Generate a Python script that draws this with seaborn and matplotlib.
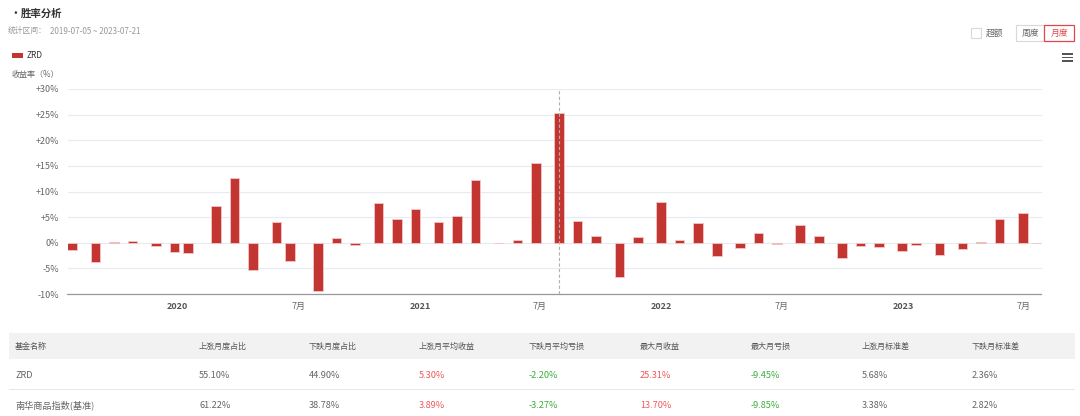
import matplotlib
matplotlib.use('Agg')
import matplotlib.pyplot as plt
import matplotlib.dates as mdates
from matplotlib.patches import Rectangle
import pandas as pd
import seaborn as sns

# month-end NAV dates and monthly returns (%)
dates = [
    '2019-07-26', '2019-08-30', '2019-09-27', '2019-10-25', '2019-11-29', '2019-12-27',
    '2020-01-17', '2020-02-28', '2020-03-27', '2020-04-24', '2020-05-29', '2020-06-19',
    '2020-07-31', '2020-08-28', '2020-09-25', '2020-10-30', '2020-11-27', '2020-12-25',
    '2021-01-29', '2021-02-26', '2021-03-26', '2021-04-30', '2021-05-28', '2021-06-25',
    '2021-07-30', '2021-08-27', '2021-09-24', '2021-10-29', '2021-11-26', '2021-12-31',
    '2022-01-28', '2022-02-25', '2022-03-25', '2022-04-29', '2022-05-27', '2022-06-24',
    '2022-07-29', '2022-08-26', '2022-09-30', '2022-10-28', '2022-11-25', '2022-12-30',
    '2023-01-20', '2023-02-24', '2023-03-31', '2023-04-28', '2023-05-26', '2023-06-30',
    '2023-07-21',
]
returns = [
    -1.50, -3.74, 0.05, 0.33, -0.66, -1.77,
    -1.97, 7.22, 12.66, -5.38, 4.07, -3.54,
    -9.45, 0.85, -0.39, 7.68, 4.66, 6.63,
    4.00, 5.18, 12.27, -0.10, 0.52, 15.49,
    25.31, 4.27, 1.31, -6.69, 1.18, 8.00,
    0.46, 3.94, -2.62, -1.12, 1.90, -0.20,
    3.41, 1.38, -2.89, -0.59, -0.79, -1.57,
    -0.46, -2.30, -1.18, 0.10, 4.59, 5.71,
    -0.05,
]
fund_name = 'ZRD'
date_range = '2019-07-05 ~ 2023-07-21'

y_ticks = [-10, -5, 0, 5, 10, 15, 20, 25, 30]
x_tick_dates = ['2020-01-01', '2020-07-01', '2021-01-01', '2021-07-01',
                '2022-01-01', '2022-07-01', '2023-01-01', '2023-07-01']
x_tick_labels = ['2020', '7月', '2021', '7月', '2022', '7月', '2023', '7月']

table_header = ['基金名称', '上涨月度占比', '下跌月度占比', '上涨月平均收益', '下跌月平均亏损',
                '最大月收益', '最大月亏损', '上涨月标准差', '下跌月标准差']
table_rows = [
    ['ZRD', '55.10%', '44.90%', '5.30%', '-2.20%', '25.31%', '-9.45%', '5.68%', '2.36%'],
    ['南华商品指数(基准)', '61.22%', '38.78%', '3.89%', '-3.27%', '13.70%', '-9.85%', '3.38%', '2.82%'],
]
col_colors = [None, None, None, '#f0585c', '#3aae3e', '#f0585c', '#3aae3e', None, None]

BAR = '#c23531'
GRID = '#e6eaf2'
TXT = '#666666'

sns.set_style('white')
plt.rcParams['font.family'] = ['Noto Sans CJK SC', 'DejaVu Sans']

W, H = 1080, 416
fig = plt.figure(figsize=(W / 100, H / 100), dpi=100)


def px(x, y):
    return x / W, 1 - y / H


df = pd.DataFrame({'date': pd.to_datetime(dates), 'ret': returns})
df['x'] = mdates.date2num(df['date'])

ax = fig.add_axes([67.5 / W, 1 - 294 / H, (1041.5 - 67.5) / W, 205 / H])
ax.set_axisbelow(True)
sns.barplot(data=df, x='x', y='ret', native_scale=True, errorbar=None, width=0.69,
            color=BAR, saturation=1, edgecolor='#f3c6c6', linewidth=0.6, ax=ax)

half = 0.69 * 21 / 2
ax.set_xlim(df['x'].iloc[0] - half, df['x'].iloc[-1] + half)
ax.set_ylim(-10, 30)

ax.set_yticks(y_ticks)
ax.set_yticklabels([('+%d%%' % v) if v > 0 else ('%d%%' % v) for v in y_ticks],
                   fontsize=6.5, color=TXT)
ax.grid(True, axis='y', color=GRID, linewidth=0.8)
ax.grid(False, axis='x')

xt = mdates.date2num(pd.to_datetime(x_tick_dates))
ax.set_xticks(xt)
ax.set_xticklabels(x_tick_labels, fontsize=6.5, color=TXT)
for lab in ax.get_xticklabels():
    if lab.get_text() != '7月':
        lab.set_fontweight('bold')
        lab.set_color('#555555')
ax.tick_params(axis='x', length=4, width=0.8, color='#999999', pad=2)
ax.tick_params(axis='y', length=0, pad=6)
ax.set_xlabel('')
ax.set_ylabel('')

for side in ['top', 'right', 'left']:
    ax.spines[side].set_visible(False)
ax.spines['bottom'].set_color('#999999')
ax.spines['bottom'].set_linewidth(0.9)

# axis pointer on the max month
peak = df['x'].iloc[df['ret'].idxmax()]
ax.axvline(peak, color='#b0b0b0', linestyle=(0, (3, 2)), linewidth=0.8, zorder=3)

# header texts
fig.text(*px(10, 14), '•', fontsize=7, fontweight='bold', color='#333333', va='center')
fig.text(*px(21, 14), '胜率分析', fontsize=7.5, fontweight='bold', color='#333333', va='center')
fig.text(*px(8, 31), '统计区间：', fontsize=5.6, color='#999999', va='center')
fig.text(*px(50, 31), date_range, fontsize=5.8, color='#999999', va='center')

# legend
fig.patches.append(Rectangle(px(11.7, 57.7), 11 / W, 4.4 / H, transform=fig.transFigure,
                             facecolor=BAR, edgecolor='none'))
fig.text(*px(27, 56), fund_name, fontsize=6, color='#333333', va='center')
fig.text(*px(12, 75), '收益率（%）', fontsize=5.8, color=TXT, va='center')

# top-right controls
fig.patches.append(Rectangle(px(970.5, 38.3), 10 / W, 10 / H, transform=fig.transFigure,
                             facecolor='white', edgecolor='#d9d9d9', linewidth=0.8))
fig.text(*px(986, 33), '超额', fontsize=6.3, color=TXT, va='center')
fig.patches.append(Rectangle(px(1016.3, 40.7), 27.7 / W, 15.4 / H, transform=fig.transFigure,
                             facecolor='white', edgecolor='#d9d9d9', linewidth=0.8))
fig.text(*px(1030, 33), '周度', fontsize=6.3, color=TXT, va='center', ha='center')
fig.patches.append(Rectangle(px(1044, 40.7), 30 / W, 15.4 / H, transform=fig.transFigure,
                             facecolor='white', edgecolor='#e0474c', linewidth=0.9))
fig.text(*px(1059, 33), '月度', fontsize=6.3, color='#e0474c', va='center', ha='center')
for yy in (54, 57.5, 61):
    fig.patches.append(Rectangle(px(1062, yy + 0.9), 11 / W, 1.8 / H, transform=fig.transFigure,
                                 facecolor='#555555', edgecolor='none'))

# stats table
fig.patches.append(Rectangle(px(8.5, 359), (1075 - 8.5) / W, 26.5 / H, transform=fig.transFigure,
                             facecolor='#f2f2f2', edgecolor='none'))
fig.patches.append(Rectangle(px(8.5, 390), (1075 - 8.5) / W, 0.8 / H, transform=fig.transFigure,
                             facecolor='#e8e8e8', edgecolor='none'))
col_x = [15, 199, 309, 419, 529, 640, 751, 862, 972]
for cx, head in zip(col_x, table_header):
    fig.text(*px(cx, 346), head, fontsize=5.8, color='#555555', va='center')
for ry, row in zip([375, 405], table_rows):
    for cx, val, cc in zip(col_x, row, col_colors):
        fig.text(*px(cx, ry), val, fontsize=6.6, color=cc or TXT, va='center')

fig.savefig('out.png', dpi=100)
plt.close(fig)
